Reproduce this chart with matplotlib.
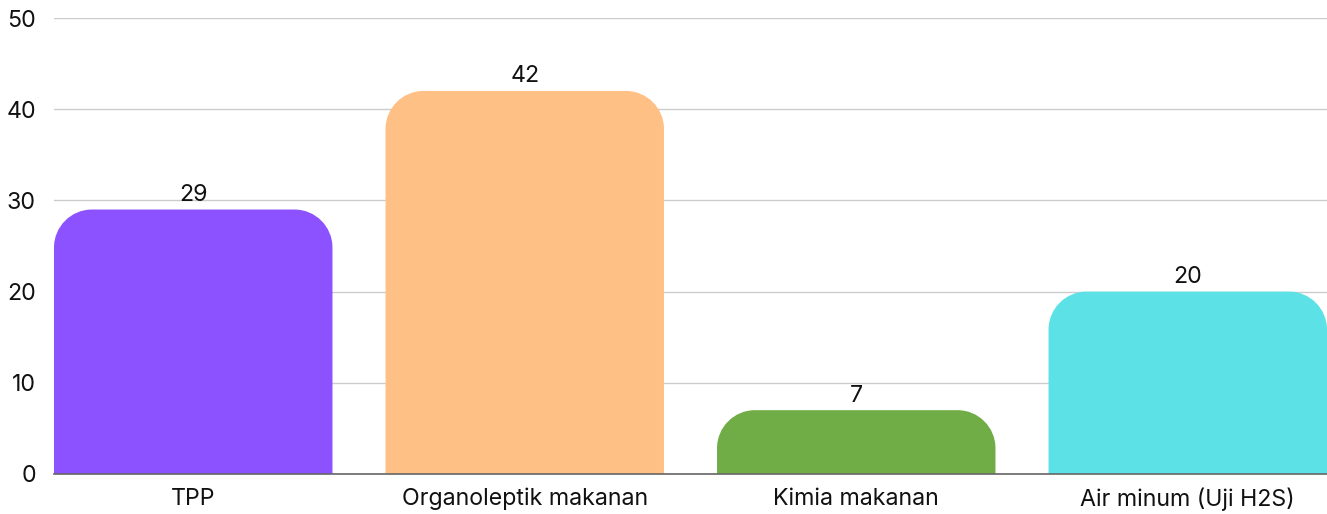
import matplotlib
matplotlib.use("Agg")
import matplotlib.pyplot as plt
from matplotlib.path import Path
from matplotlib.patches import PathPatch

plt.rcParams['font.family'] = ['Inter', 'DejaVu Sans']

categories = ['TPP', 'Organoleptik makanan', 'Kimia makanan', 'Air minum (Uji H2S)']
values = [29, 42, 7, 20]
colors = ['#8C52FF', '#FFC085', '#70AD47', '#5CE1E6']

fig = plt.figure(figsize=(13.27, 5.14), dpi=100)
ax = fig.add_axes([54 / 1327, 40 / 514, 1 - 54 / 1327, (474 - 18) / 514])
ax.set_xlim(-0.42, 3.42)
ax.set_ylim(0, 50)

# corner radius in pixels, converted to data units on each axis
rad_px = 38
px_x = (3.42 + 0.42) / (1327 - 54)
px_y = 50 / (474 - 18)
rx, ry = rad_px * px_x, rad_px * px_y
width = 0.84
k = 0.5523

for i, (v, c) in enumerate(zip(values, colors)):
    x0, x1 = i - width / 2, i + width / 2
    r_y = min(ry, v)
    verts = [
        (x0, 0), (x0, v - r_y),
        (x0, v - r_y + k * r_y), (x0 + rx - k * rx, v), (x0 + rx, v),
        (x1 - rx, v),
        (x1 - rx + k * rx, v), (x1, v - r_y + k * r_y), (x1, v - r_y),
        (x1, 0), (x0, 0),
    ]
    codes = [Path.MOVETO, Path.LINETO,
             Path.CURVE4, Path.CURVE4, Path.CURVE4,
             Path.LINETO,
             Path.CURVE4, Path.CURVE4, Path.CURVE4,
             Path.LINETO, Path.CLOSEPOLY]
    ax.add_patch(PathPatch(Path(verts, codes), facecolor=c, edgecolor='none', zorder=3))
    ax.annotate(str(v), (i, v), xytext=(0, 2.5), textcoords='offset points',
                ha='center', va='bottom', fontsize=16.7, color='#111111', zorder=4)

ax.set_yticks(range(0, 51, 10))
ax.set_xticks(range(len(categories)))
ax.set_xticklabels(categories)
ax.tick_params(axis='y', length=0, pad=13, labelsize=16.7, labelcolor='#111111')
ax.tick_params(axis='x', length=0, pad=10, labelsize=16.7, labelcolor='#111111')
ax.grid(axis='y', color='#cccccc', linewidth=1, zorder=0)
for s in ['top', 'right', 'left']:
    ax.spines[s].set_visible(False)
ax.spines['bottom'].set_color('#666666')
ax.spines['bottom'].set_linewidth(1.2)
ax.spines['bottom'].set_zorder(5)

fig.savefig('out.png', dpi=100)
